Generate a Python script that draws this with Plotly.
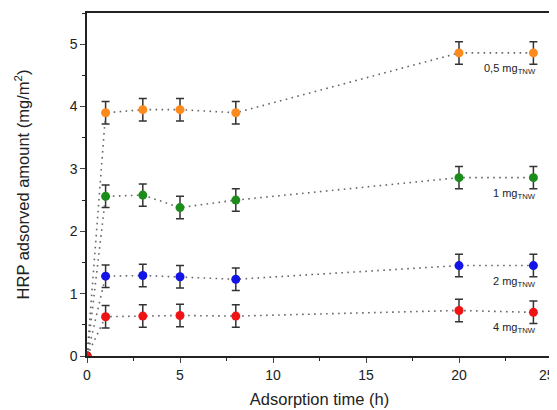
import plotly.graph_objects as go

times = [0, 1, 3, 5, 8, 20, 24]
series_names = ["0,5 mg<sub>TNW</sub>", "1 mg<sub>TNW</sub>", "2 mg<sub>TNW</sub>", "4 mg<sub>TNW</sub>"]
vals_05 = [0, 3.90, 3.95, 3.95, 3.90, 4.86, 4.86]
vals_1 = [0, 2.56, 2.58, 2.38, 2.50, 2.86, 2.86]
vals_2 = [0, 1.28, 1.29, 1.27, 1.23, 1.45, 1.45]
vals_4 = [0, 0.63, 0.64, 0.65, 0.64, 0.73, 0.70]
err = [0, 0.18, 0.18, 0.18, 0.18, 0.18, 0.18]
colors = ["#FF8A1C", "#1C8C1C", "#1414E6", "#EE1414"]
all_vals = [vals_05, vals_1, vals_2, vals_4]
x_max = 25

fig = go.Figure()
for name, vals, col in zip(series_names, all_vals, colors):
    fig.add_trace(go.Scatter(
        x=times, y=vals, mode="lines+markers",
        line=dict(color="#666666", width=1.6, dash="1.6px,4.4px"),
        marker=dict(color=col, size=9),
        error_y=dict(type="data", array=err, visible=True, color="#333333",
                     thickness=1.5, width=4),
        showlegend=False,
    ))
    fig.add_annotation(x=24.25, y=vals[-1], text=name, showarrow=False,
                       xanchor="right", yanchor="top", yshift=-7,
                       font=dict(family="Liberation Sans, Arial", size=11, color="#222222"))

# last x tick label (plotly drops it at the figure edge)
fig.add_annotation(x=x_max, xref="x", y=0, yref="paper", text=str(x_max), showarrow=False,
                   xanchor="right", yanchor="top", yshift=-10, xshift=4,
                   borderpad=0,
                   font=dict(family="Liberation Sans, Arial", size=14, color="#222222"))

# page body has an 8px margin, so the figure is sized/offset to compensate
fig.update_layout(
    width=549, height=402,
    margin=dict(l=79, r=5, t=5, b=54),
    plot_bgcolor="white", paper_bgcolor="white",
    font=dict(family="Liberation Sans, Arial", size=14, color="#222222"),
)
fig.update_xaxes(range=[0, x_max], tick0=0, dtick=5, ticks="outside", ticklen=5,
                 automargin=False,
                 showline=True, linecolor="#222222", linewidth=1.5, mirror=True,
                 showgrid=False, zeroline=False,
                 minor=dict(dtick=2.5, ticks="outside", ticklen=3, tickcolor="#222222"),
                 title=dict(text="Adsorption time (h)", font=dict(size=16.5), standoff=12))
fig.update_yaxes(range=[0, 5.5], tick0=0, dtick=1, ticks="outside", ticklen=5,
                 automargin=False,
                 showline=True, linecolor="#222222", linewidth=1.5, mirror=True,
                 showgrid=False, zeroline=False,
                 minor=dict(dtick=0.5, ticks="outside", ticklen=3, tickcolor="#222222"),
                 title=dict(text="HRP adsorved amount (mg/m<sup>2</sup>)", font=dict(size=16.5), standoff=36))

fig.write_html("out.html")
